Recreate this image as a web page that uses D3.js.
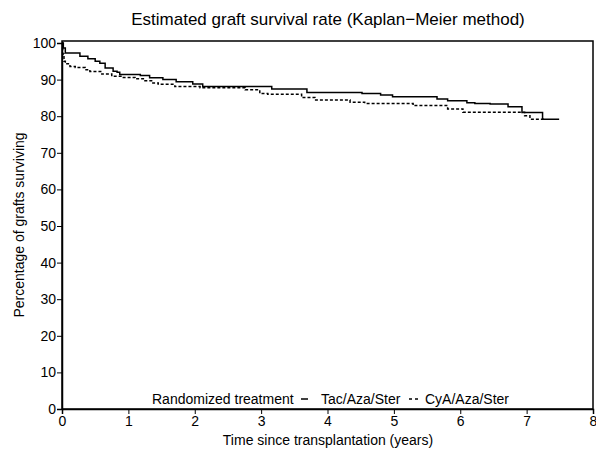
<!DOCTYPE html>
<html>
<head>
<meta charset="utf-8">
<script src="https://cdn.jsdelivr.net/npm/d3@7"></script>
<style>
  body { margin: 0; background: #fff; }
  svg { display: block; font-family: "Liberation Sans", Arial, sans-serif; }
</style>
</head>
<body>
<div class="chart"></div>
<script>
// Kaplan-Meier step data (years, % surviving)
const tacTimes = [0, 0.02, 0.05, 0.27, 0.39, 0.5, 0.57, 0.65, 0.77, 0.83, 0.87, 1.18, 1.32, 1.52, 1.72, 1.97, 2.12, 3.16, 3.69, 4.52, 4.8, 4.98, 5.65, 5.81, 6.1, 6.22, 6.45, 6.72, 6.93, 7.24, 7.3, 7.49];
const tacSurv  = [100, 98.6, 97.3, 96.4, 95.7, 95.0, 94.5, 93.2, 92.3, 92.0, 91.4, 91.1, 90.5, 90.0, 89.4, 88.8, 88.1, 87.4, 86.5, 86.2, 85.8, 85.3, 84.7, 84.2, 83.7, 83.5, 83.3, 82.6, 81.0, 79.2, 79.2, 79.2];
const cyaTimes = [0, 0.01, 0.03, 0.05, 0.12, 0.2, 0.35, 0.42, 0.6, 0.75, 0.9, 1.1, 1.25, 1.35, 1.45, 1.7, 2.08, 2.76, 2.98, 3.1, 3.61, 3.81, 4.34, 4.56, 5.29, 5.81, 6.04, 6.97, 7.05, 7.27];
const cyaSurv  = [100, 97, 95, 94.3, 93.6, 93.3, 92.7, 92.2, 91.5, 90.9, 90.6, 90.2, 89.7, 89.1, 88.7, 88.1, 87.8, 87.2, 86.2, 86.0, 85.1, 84.4, 83.8, 83.5, 82.9, 82.0, 81.1, 80.1, 79.2, 79.2];

const xTicks = [0, 1, 2, 3, 4, 5, 6, 7, 8];
const yTicks = [0, 10, 20, 30, 40, 50, 60, 70, 80, 90, 100];

const width = 596, height = 451;
const plotLeft = 62, plotRight = 593, plotTop = 41, plotBottom = 409;

const svg = d3.select(".chart").append("svg")
    .attr("width", width)
    .attr("height", height);

const x = d3.scaleLinear().domain([0, 8]).range([plotLeft, plotRight]);
const y = d3.scaleLinear().domain([0, 100]).range([plotBottom, 43]);

// frame
svg.append("rect")
    .attr("x", plotLeft).attr("y", plotTop)
    .attr("width", plotRight - plotLeft).attr("height", plotBottom - plotTop)
    .attr("fill", "none").attr("stroke", "#000").attr("stroke-width", 1.5);

// axes
const xAxis = svg.append("g")
    .attr("transform", `translate(0,${plotBottom})`)
    .call(d3.axisBottom(x).tickValues(xTicks).tickSize(5).tickPadding(2).tickFormat(d3.format("d")));
const yAxis = svg.append("g")
    .attr("transform", `translate(${plotLeft},0)`)
    .call(d3.axisLeft(y).tickValues(yTicks).tickSize(5).tickPadding(1).tickFormat(d3.format("d")));

[xAxis, yAxis].forEach(g => {
    g.select(".domain").attr("stroke-width", 1.5);
    g.selectAll(".tick line").attr("stroke-width", 1);
    g.selectAll("text")
        .attr("font-family", "Liberation Sans, Arial, sans-serif")
        .attr("font-size", 14)
        .attr("fill", "#000");
});

// curves
const line = d3.line()
    .x(d => x(d[0]))
    .y(d => y(d[1]))
    .curve(d3.curveStepAfter);

svg.append("path")
    .datum(d3.zip(tacTimes, tacSurv))
    .attr("d", line)
    .attr("fill", "none")
    .attr("stroke", "#000")
    .attr("stroke-width", 1.5);

svg.append("path")
    .datum(d3.zip(cyaTimes, cyaSurv))
    .attr("d", line)
    .attr("fill", "none")
    .attr("stroke", "#000")
    .attr("stroke-width", 1.5)
    .attr("stroke-dasharray", "3,2");

// title and labels
svg.append("text")
    .attr("x", 328).attr("y", 25)
    .attr("text-anchor", "middle")
    .attr("font-size", 17)
    .text("Estimated graft survival rate (Kaplan\u2212Meier method)");

svg.append("text")
    .attr("x", 328).attr("y", 445)
    .attr("text-anchor", "middle")
    .attr("font-size", 14)
    .text("Time since transplantation (years)");

svg.append("text")
    .attr("transform", "translate(24,225) rotate(-90)")
    .attr("text-anchor", "middle")
    .attr("font-size", 14)
    .text("Percentage of grafts surviving");

// legend
const legend = svg.append("g").attr("font-size", 14);
legend.append("text").attr("x", 152).attr("y", 404).text("Randomized treatment");
legend.append("line")
    .attr("x1", 301).attr("x2", 308).attr("y1", 399).attr("y2", 399)
    .attr("stroke", "#000").attr("stroke-width", 1.5);
legend.append("text").attr("x", 321).attr("y", 404).text("Tac/Aza/Ster");
legend.append("line")
    .attr("x1", 409).attr("x2", 418).attr("y1", 399).attr("y2", 399)
    .attr("stroke", "#000").attr("stroke-width", 1.5)
    .attr("stroke-dasharray", "3,3");
legend.append("text").attr("x", 425).attr("y", 404).text("CyA/Aza/Ster");
</script>
</body>
</html>
